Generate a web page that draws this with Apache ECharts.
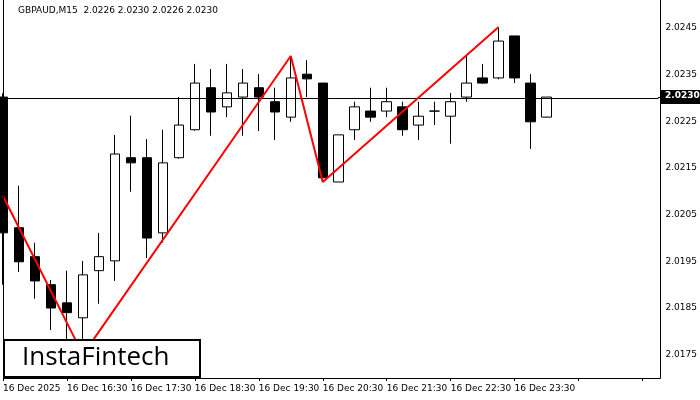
<!DOCTYPE html>
<html><head><meta charset="utf-8">
<script src="https://cdn.jsdelivr.net/npm/echarts@6/dist/echarts.min.js"></script>
<style>html,body{margin:0;padding:0;background:#fff}#c{width:700px;height:400px}</style>
</head><body><div id="c"></div>
<script>
var categories=[];
for(var i=0;i<42;i++){categories.push(String(i));}
var tickLabels={0:'16 Dec 2025',4:'16 Dec 16:30',8:'16 Dec 17:30',12:'16 Dec 18:30',16:'16 Dec 19:30',20:'16 Dec 20:30',24:'16 Dec 21:30',28:'16 Dec 22:30',32:'16 Dec 23:30'};
// [open, close, low, high]
var opens =[2.02302,2.02022,2.01960,2.01900,2.01861,2.01829,2.01930,2.01951,2.02172,2.02172,2.02011,2.02172,2.02232,2.02322,2.02281,2.02302,2.02322,2.02292,2.02259,2.02351,2.02332,2.02120,2.02232,2.02272,2.02272,2.02281,2.02242,2.02272,2.02261,2.02302,2.02343,2.02343,2.02433,2.02332,2.02259];
var closes=[2.02011,2.01949,2.01908,2.01850,2.01840,2.01921,2.01960,2.02180,2.02161,2.02000,2.02161,2.02242,2.02332,2.02270,2.02311,2.02332,2.02302,2.02270,2.02343,2.02341,2.02129,2.02221,2.02281,2.02259,2.02292,2.02232,2.02261,2.02272,2.02292,2.02332,2.02332,2.02422,2.02343,2.02249,2.02302];
var lows  =[2.01900,2.01927,2.01870,2.01803,2.01770,2.01760,2.01859,2.01908,2.02099,2.01957,2.01990,2.02170,2.02230,2.02219,2.02259,2.02219,2.02229,2.02210,2.02249,2.02302,2.02120,2.02120,2.02210,2.02249,2.02259,2.02219,2.02210,2.02242,2.02202,2.02292,2.02330,2.02340,2.02332,2.02191,2.02260];
var highs =[2.02310,2.02112,2.01990,2.01910,2.01930,2.01951,2.02011,2.02221,2.02262,2.02212,2.02232,2.02302,2.02373,2.02362,2.02373,2.02362,2.02351,2.02322,2.02390,2.02381,2.02332,2.02221,2.02292,2.02322,2.02322,2.02292,2.02292,2.02292,2.02311,2.02392,2.02373,2.02452,2.02433,2.02351,2.02302];
var zigIdx=[0,5,18,20,31];
var zigVal=[2.02090,2.01750,2.02390,2.02120,2.02452];
var currentPrice=2.0230;

var candleData=opens.map(function(o,i){return [o,closes[i],lows[i],highs[i]];});
var zigData=zigIdx.map(function(x,i){return [String(x),zigVal[i]];});

var chart=echarts.init(document.getElementById('c'));
chart.setOption({
  animation:false,
  grid:{left:3,width:656,top:0,bottom:22},
  xAxis:{type:'category',data:categories,boundaryGap:false,
    axisLine:{show:false},
    axisTick:{show:true,interval:3,length:3,lineStyle:{color:'#000'}},
    axisLabel:{interval:3,align:'left',margin:6,color:'#000',fontFamily:'DejaVu Sans',fontSize:9,
      formatter:function(v,i){return tickLabels[i]||'';}},
    splitLine:{show:false}},
  yAxis:{type:'value',position:'right',min:2.0170,max:2.0251,interval:0.0005,offset:1,
    axisLine:{show:false},axisTick:{show:false},splitLine:{show:false},
    axisLabel:{color:'#000',fontFamily:'DejaVu Sans',fontSize:9,margin:6,
      formatter:function(v){var k=Math.round(v*2000);return (k%2===1)?v.toFixed(4):'';}}},
  series:[
    {type:'candlestick',data:candleData,barWidth:10,clip:true,
      itemStyle:{color:'#fff',color0:'#000',borderColor:'#000',borderColor0:'#000',borderWidth:1}},
    {type:'line',data:zigData,symbol:'none',lineStyle:{color:'#ff0000',width:2},z:5,
      markLine:{symbol:'none',silent:true,precision:4,label:{show:false},lineStyle:{color:'#000',type:'solid',width:1},
        data:[{yAxis:currentPrice}]}}
  ],
  graphic:[
    {type:'polyline',shape:{points:[[3.5,0],[3.5,378.5],[660.5,378.5],[660.5,0]]},style:{stroke:'#000',fill:null,lineWidth:1},z:10},
    {type:'line',shape:{x1:658,y1:97.5,x2:661,y2:97.5},style:{stroke:'#000',lineWidth:1},z:10},
    {type:'rect',shape:{x:661,y:90,width:39,height:14},style:{fill:'#000'},z:10},
    {type:'text',x:665,y:91,style:{text:currentPrice.toFixed(4),fill:'#fff',font:'bold 9px DejaVu Sans'},z:11},
    {type:'text',x:18,y:6,style:{text:'GBPAUD,M15  2.0226 2.0230 2.0226 2.0230',fill:'#000',font:'9px DejaVu Sans'},z:11},
    {type:'rect',shape:{x:4,y:340,width:196,height:37},style:{fill:'#fff',stroke:'#000',lineWidth:2},z:20},
    {type:'text',x:22,y:345,style:{text:'InstaFintech',fill:'#000',font:'26px Open Sans'},z:21}
  ]
});
</script></body></html>
